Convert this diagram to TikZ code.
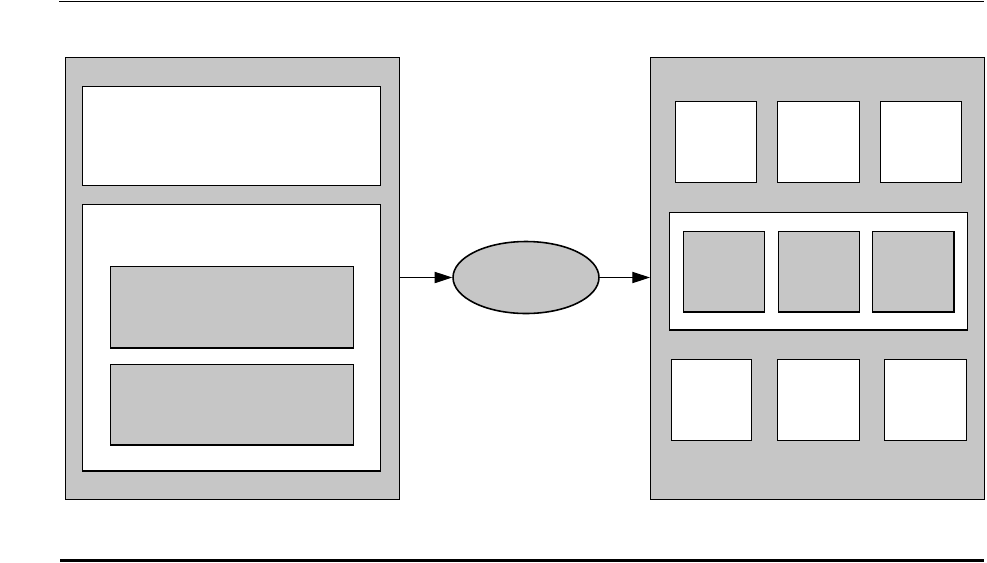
\documentclass[tikz,border=0pt]{standalone}
\usepackage{xcolor}
\usepackage{tikz}
\usetikzlibrary{arrows.meta,positioning,shapes.geometric}

\definecolor{panelgray}{RGB}{198,198,198}

\begin{document}
\begin{tikzpicture}[
    x=0.02cm, y=-0.02cm,
    panel/.style={rectangle, draw=black, fill=panelgray, line width=0.7pt,
                minimum width=6.68cm, minimum height=8.84cm, inner sep=0pt},
    wbox/.style={rectangle, draw=black, fill=white, line width=0.7pt,
                minimum width=5.96cm, inner sep=0pt},
    gbox/.style={rectangle, draw=black, fill=panelgray, line width=0.7pt,
                minimum width=4.86cm, inner sep=0pt},
    wsq/.style={rectangle, draw=black, fill=white, line width=0.7pt,
                minimum width=1.63cm, minimum height=1.62cm, inner sep=0pt},
    gsq/.style={rectangle, draw=black, fill=panelgray, line width=0.7pt,
                minimum width=1.63cm, minimum height=1.61cm, inner sep=0pt},
    proc/.style={ellipse, draw=black, fill=panelgray, line width=0.9pt,
                minimum width=2.92cm, minimum height=1.44cm, inner sep=0pt},
    arr/.style={-{Triangle[length=10pt, width=6.4pt]}, line width=0.6pt},
]
\useasboundingbox (0,0) rectangle (987,562);

% rules
\coordinate (tl) at (59,1.5);
\coordinate (tr) at (984,1.5);
\coordinate (bl) at (60,560.5);
\coordinate (br) at (984,560.5);
\draw[line width=0.6pt] (tl) -- (tr);
\draw[line width=1.2pt] (bl) -- (br);

% left panel
\node[panel] (lp) at (232.5, 278.5) {};
\node[wbox, minimum height=1.98cm] (lt) at (231.5, 136) {};
\node[wbox, minimum height=5.33cm] (lb) at (231.5, 337.75) {};
\node[gbox, minimum height=1.63cm] (lg1) at (232, 307.25) {};
\node[gbox, minimum height=1.61cm] (lg2) at (232, 404.75) {};

% middle
\node[proc] (ell) at (526, 277.5) {};

% right panel
\node[panel] (rp) at (817.5, 278.5) {};
\node[wsq] (t1) at (716, 141.8) {};
\node[wsq] (t2) at (818.5, 141.8) {};
\node[wsq] (t3) at (921, 141.8) {};
\node[wbox, minimum height=2.35cm] (rm) at (818.5, 271.25) {};
\node[gsq] (m1) at (724, 271.8) {};
\node[gsq] (m2) at (819, 271.8) {};
\node[gsq] (m3) at (913.3, 271.8) {};
\node[wsq, minimum width=1.61cm] (b1) at (711.5, 399.8) {};
\node[wsq] (b2) at (818.5, 399.8) {};
\node[wsq] (b3) at (925.5, 399.8) {};

% connectors
\draw[arr] (lp.east |- ell.west) -- (ell.west);
\draw[arr] (ell.east) -- (ell.east -| rp.west);

\end{tikzpicture}
\end{document}
